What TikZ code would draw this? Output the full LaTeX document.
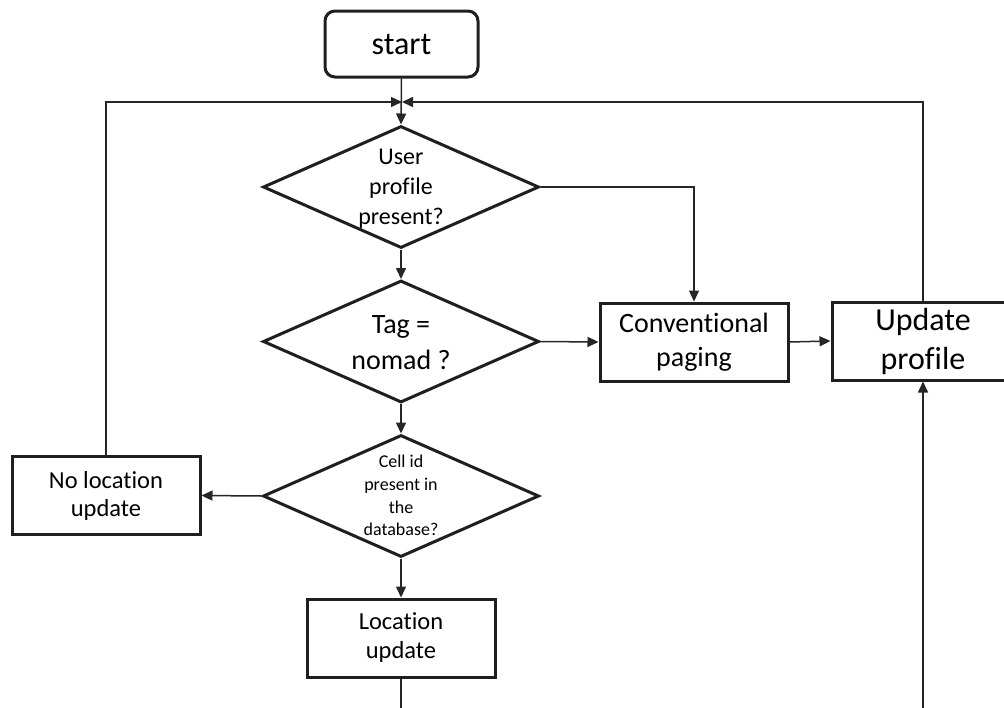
\documentclass[tikz,border=0pt]{standalone}
\usepackage{fontspec}
\setmainfont{Carlito}[Ligatures=NoCommon]
\usetikzlibrary{shapes.geometric,arrows.meta}

% font size helper: size and baseline skip in pt
\newcommand{\fsz}[2]{\fontsize{#1}{#2}\selectfont}
% centred stack of lines that does not enlarge its shape; #1 lowers it
\newcommand{\dtext}[2]{\smash{\raisebox{-#1}{\begin{tabular}{@{}c@{}}#2\end{tabular}}}}

\begin{document}
\begin{tikzpicture}[x=1pt,y=-1pt,
  box/.style={draw=black!88, line width=3pt, rectangle, inner sep=0pt,
              align=center, minimum width=188pt, minimum height=78pt},
  decision/.style={draw=black!88, line width=3pt, diamond, inner sep=0pt,
                   minimum width=276pt, minimum height=122pt},
  flow/.style={draw=black!85, line width=1.5pt, -{Triangle[length=11pt,width=10pt]}},
  plain/.style={draw=black!85, line width=1.5pt}]

\clip (0,0) rectangle (1004,707);

% --- nodes ---
\node[box, rounded corners=10pt, minimum width=153pt, minimum height=66pt,
      font=\fsz{32}{38}] (start) at (401.5,44) {start};
\coordinate (join) at (402,102);

\node[decision, font=\fsz{24}{30}] (d1) at (401,187)
  {\dtext{8pt}{User\\profile\\present?}};
\node[decision, font=\fsz{28}{36}] (d2) at (401,341.5)
  {\dtext{8.7pt}{Tag =\\nomad ?}};
\node[decision, font=\fsz{18}{22.7}] (d3) at (401,496)
  {\dtext{5.5pt}{Cell id\\present in\\the\\database?}};

\node[box, font=\fsz{28}{34}] (conv) at (694,342) {Conventional\\paging};
\node[box, minimum width=182pt, font=\fsz{32}{39}] (upd) at (923,341) {Update\\profile};
\node[box, font=\fsz{24.5}{28}] (nl) at (106,495.5) {No location\\update};
\node[box, font=\fsz{24.5}{29}] (loc) at (401,638) {Location\\update};

\coordinate (tailA) at (401,712);
\coordinate (tailB) at (923,712);

% --- connectors ---
\draw[flow] (start.south) -- (d1.north);
\draw[flow] (nl.north) |- (join);
\draw[flow] (upd.north) |- (join);
\draw[flow] (d1.south) -- (d2.north);
\draw[flow] (d1.east) -| (conv.north);
\draw[flow] (d2.east) -- (conv.west);
\draw[flow] (conv.east) -- (upd.west);
\draw[flow] (d2.south) -- (d3.north);
\draw[flow] (d3.west) -- (nl.east);
\draw[flow] (d3.south) -- (loc.north);
\draw[plain] (loc.south) -- (tailA);
\draw[flow] (tailB) -- (upd.south);
\end{tikzpicture}
\end{document}
